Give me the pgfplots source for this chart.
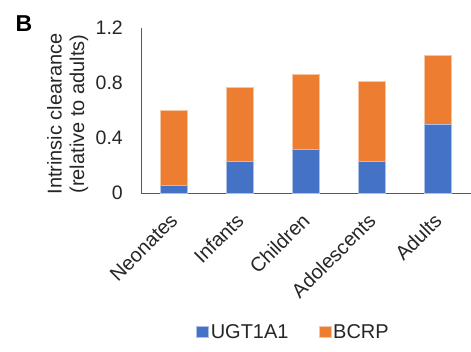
\documentclass[border=0pt]{standalone}
\usepackage{pgfplots}
\pgfplotsset{compat=1.18}
\usepackage{fontspec}
\setmainfont{Liberation Sans}
\definecolor{ugt}{HTML}{4472C4}
\definecolor{bcrp}{HTML}{ED7D31}
\definecolor{axisgrey}{HTML}{595959}
\definecolor{txt}{HTML}{262626}

\begin{document}
\begin{tikzpicture}
\begin{axis}[
  scale only axis,
  width=330pt, height=165pt,
  ybar stacked,
  bar width=27pt,
  xmin=-0.5, xmax=4.5,
  ymin=0, ymax=1.2,
  axis lines=left,
  axis line style={-, draw=axisgrey, line width=0.9pt},
  tick style={draw=none},
  major tick length=0pt,
  xtick={0,1,2,3,4},
  xticklabels={Neonates,Infants,Children,Adolescents,Adults},
  ytick={0,0.4,0.8,1.2},
  yticklabels={0,0.4,0.8,1.2},
  /pgf/number format/assume math mode=true,
  yticklabel style={font=\fontsize{19.5}{21}\selectfont, text=txt,
    inner sep=0pt, xshift=-18pt, anchor=east},
  xticklabel style={font=\fontsize{20}{22}\selectfont, text=txt,
    xshift=0pt, yshift=-24pt, rotate=45, anchor=east, inner sep=0pt},
  ylabel={Intrinsic clearance\\(relative to adults)},
  ylabel style={at={(axis description cs:-0.222,0.479)}, anchor=center, rotate=0,
    align=center, font=\fontsize{20}{22.5}\selectfont, text=txt},
  legend style={at={(axis description cs:0.462,-0.842)}, anchor=center, draw=none,
    legend columns=2, font=\fontsize{20}{22}\selectfont, text=txt,
    nodes={inner sep=2pt},
    /tikz/every even column/.append style={column sep=28pt}},
  clip=false,
]
\addplot[fill=ugt, draw=ugt!45!white, line width=0.6pt,
  legend image code/.code={\path[fill=ugt] (0pt,-5.5pt) rectangle (12pt,5.5pt);}]
  coordinates {(0,0.055) (1,0.23) (2,0.32) (3,0.23) (4,0.50)};
\addlegendentry{UGT1A1}
\addplot[fill=bcrp, draw=bcrp!45!white, line width=0.6pt,
  legend image code/.code={\path[fill=bcrp] (0pt,-5.5pt) rectangle (12pt,5.5pt);}]
  coordinates {(0,0.545) (1,0.54) (2,0.545) (3,0.58) (4,0.50)};
\addlegendentry{BCRP}
\coordinate (o) at (rel axis cs:0,0);
\node[font=\fontsize{23}{26}\selectfont\bfseries, text=black, inner sep=0pt]
  at (axis description cs:-0.3545,1.0285) {B};
\end{axis}
\pgfresetboundingbox
\path[use as bounding box] ([xshift=-141pt,yshift=-158pt]o) rectangle ([xshift=330pt,yshift=193pt]o);
\end{tikzpicture}
\end{document}
